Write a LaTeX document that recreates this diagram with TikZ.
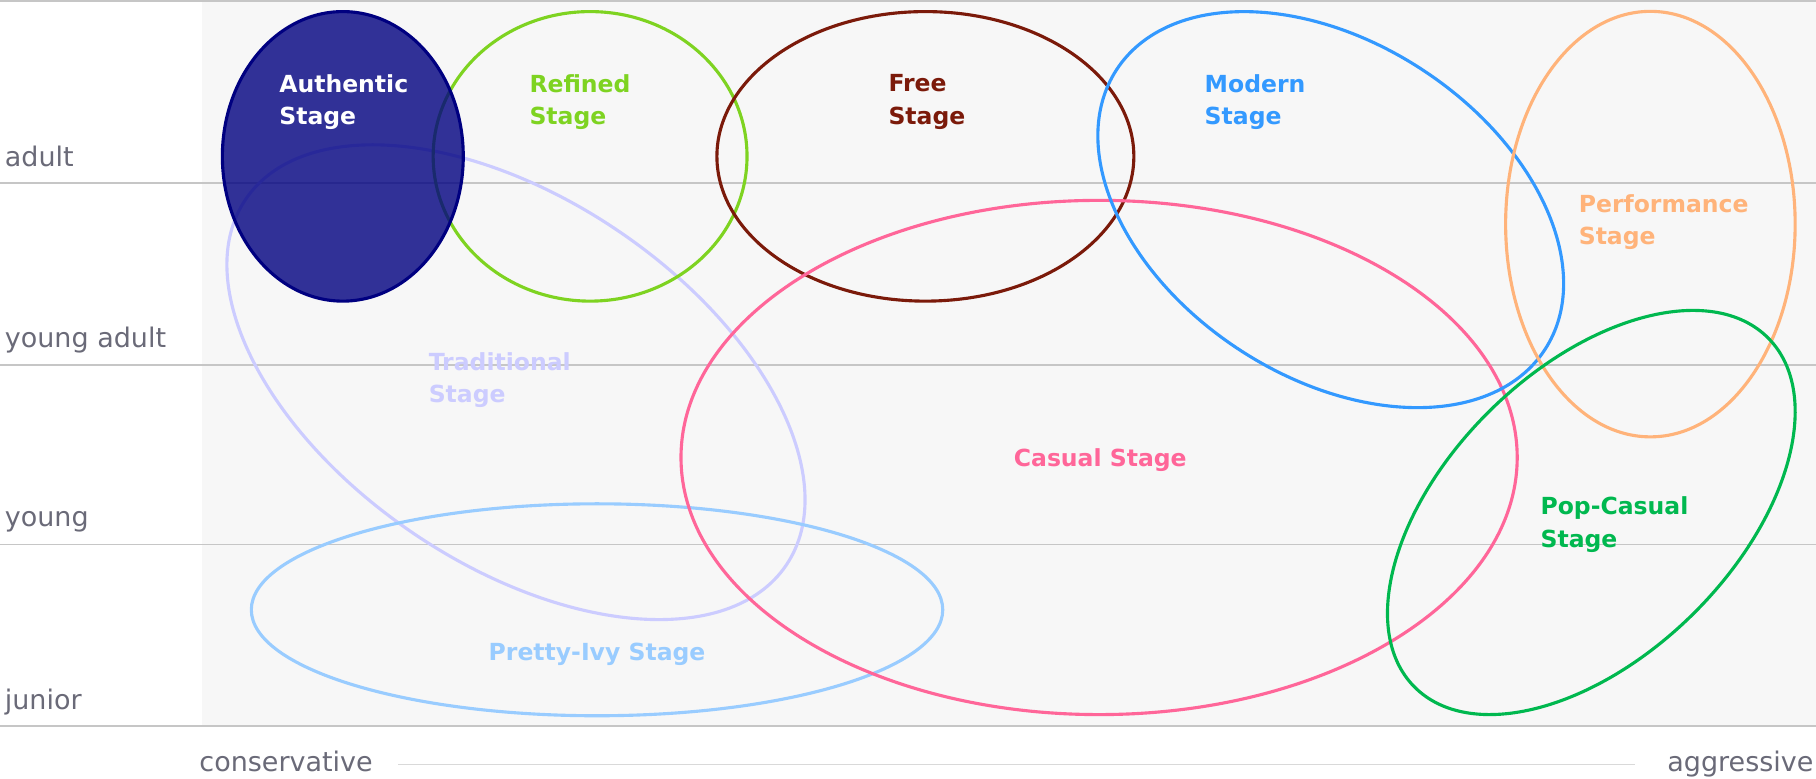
\documentclass[tikz,border=0pt]{standalone}
\usepackage{fontspec}
\setmainfont{DejaVu Sans}
\definecolor{bgc}{HTML}{F7F7F7}
\definecolor{gridc}{HTML}{C6C6C6}
\definecolor{axisc}{HTML}{D9D9D9}
\definecolor{labc}{HTML}{6A6A78}
\definecolor{authc}{HTML}{000080}
\definecolor{refc}{HTML}{7ED321}
\definecolor{freec}{HTML}{7B1A0A}
\definecolor{modc}{HTML}{3399FF}
\definecolor{perfc}{HTML}{FFB37A}
\definecolor{tradc}{HTML}{CCCCFF}
\definecolor{casc}{HTML}{FF6699}
\definecolor{popc}{HTML}{00B84F}
\definecolor{ivyc}{HTML}{99CCFF}
\begin{document}
\begin{tikzpicture}[x=1pt,y=-1pt,
  gridline/.style={draw=gridc,line width=1.3pt},
  axislab/.style={text=labc,inner sep=0pt,font=\fontsize{23.3}{27}\selectfont},
  stagelab/.style={inner sep=0pt,align=left,anchor=west,font=\fontsize{20.3}{28}\selectfont\bfseries},
  ring/.style={line width=2.7pt}]
\useasboundingbox (0,0) rectangle (1568,672);
\fill[bgc] (174,1) rectangle (1568,627);
\foreach \yy in {1,158,315,470,627} \draw[gridline] (0,\yy) -- (1568,\yy);
% axis labels
\node[axislab,anchor=base west] (adult) at (4,144) {adult};
\node[axislab,anchor=base west] (yadult) at (4,300) {young adult};
\node[axislab,anchor=base west] (young) at (4,455) {young};
\node[axislab,anchor=base west] (junior) at (4,613) {junior};
\node[axislab,anchor=base west] (cons) at (172,666) {conservative};
\node[axislab,anchor=base east] (aggr) at (1566,666) {aggressive};
\coordinate (axL) at (344,660);
\coordinate (axR) at (1412,660);
\draw[draw=axisc,line width=1.3pt] (axL) -- (axR);
% ellipses
\draw[ring,draw=tradc,rotate around={-34.1:(445.5,330)}] (445.5,330) ellipse [x radius=281.8pt,y radius=157.7pt];
\draw[ring,draw=ivyc] (515.5,526.5) ellipse [x radius=298.5pt,y radius=91.5pt];
\draw[ring,draw=refc] (509.5,135) ellipse [x radius=135.5pt,y radius=125pt];
\draw[ring,draw=freec] (799,135) ellipse [x radius=180pt,y radius=125pt];
\draw[ring,draw=casc] (949,395) ellipse [x radius=361pt,y radius=222pt];
\draw[ring,draw=modc,rotate around={-33.2:(1149,181)}] (1149,181) ellipse [x radius=220.9pt,y radius=144.4pt];
\draw[ring,draw=perfc] (1425,193.5) ellipse [x radius=125pt,y radius=183.7pt];
\draw[ring,draw=popc,rotate around={44.5:(1374,442.5)}] (1374,442.5) ellipse [x radius=214.5pt,y radius=124.1pt];
\draw[ring,draw=authc,fill=authc,fill opacity=0.8] (296,135) ellipse [x radius=104pt,y radius=125pt];
% stage labels
\node[stagelab,text=white] (auth) at (241,88) {Authentic\\Stage};
\node[stagelab,text=refc] (ref) at (457,88) {Refined\\Stage};
\node[stagelab,text=freec] (free) at (767,88) {Free\\Stage};
\node[stagelab,text=modc] (mod) at (1040,88) {Modern\\Stage};
\node[stagelab,text=perfc] (perf) at (1363,192) {Performance\\Stage};
\node[stagelab,text=tradc] (trad) at (370,328) {Traditional\\Stage};
\node[stagelab,text=popc] (pop) at (1330,453) {Pop-Casual\\Stage};
\node[stagelab,anchor=center,text=casc] (cas) at (950,397) {Casual Stage};
\node[stagelab,anchor=center,text=ivyc] (ivy) at (515.5,565) {Pretty-Ivy Stage};
\end{tikzpicture}
\end{document}
